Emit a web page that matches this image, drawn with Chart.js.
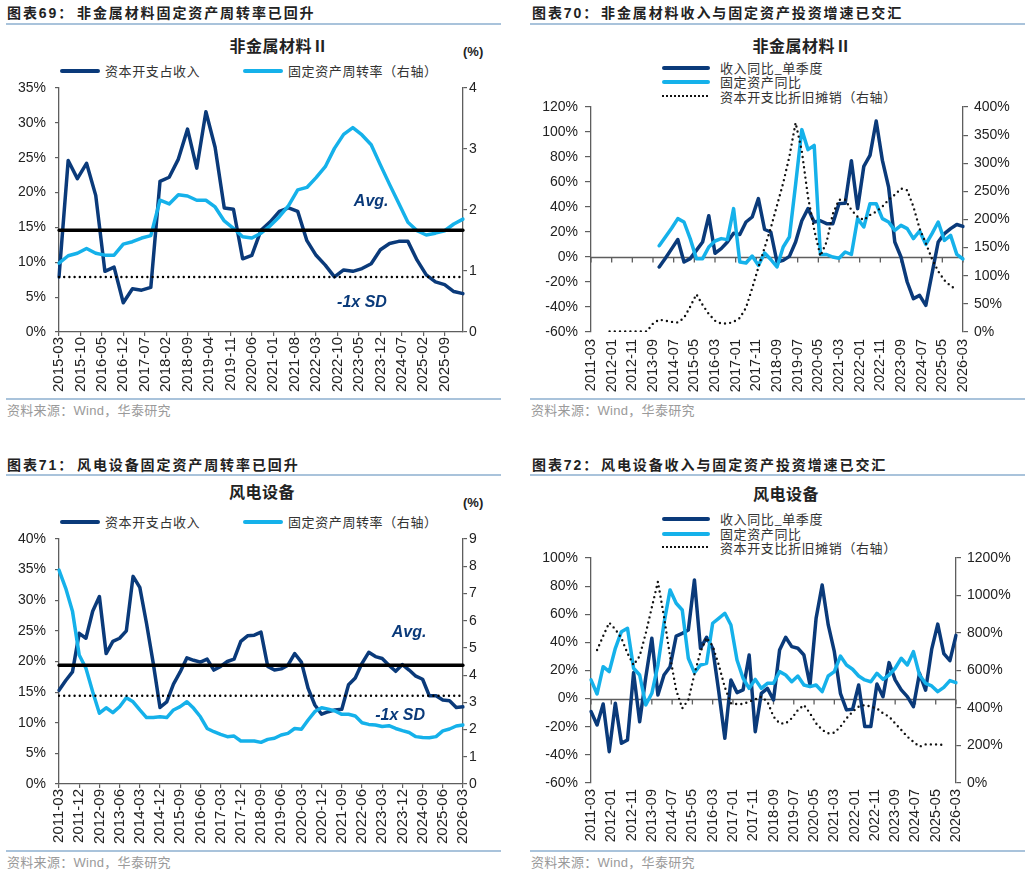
<!DOCTYPE html>
<html>
<head>
<meta charset="utf-8">
<script src="https://cdn.jsdelivr.net/npm/chart.js@4.4.1/dist/chart.umd.min.js"></script>
<style>
body { margin: 0; background: #fff; }
#page { position: relative; width: 1030px; height: 875px; overflow: hidden; font-family: "Liberation Sans", "Noto Sans CJK SC", sans-serif; color: #222; }
.abs { position: absolute; white-space: nowrap; }
.hd { font-size: 14px; font-weight: bold; letter-spacing: 1.9px; line-height: 18px; }
.rule { position: absolute; height: 1.5px; background: #a9c3db; }
.ttl { font-size: 16px; font-weight: bold; letter-spacing: 0.5px; line-height: 20px; transform: translateX(-50%); }
.unit { font-size: 13px; font-weight: bold; line-height: 16px; }
.src { font-size: 13px; color: #9a9a9a; line-height: 16px; letter-spacing: 0.3px; }
.lg { font-size: 13px; color: #333; line-height: 16px; letter-spacing: 0.6px; font-family: "Noto Sans CJK SC", sans-serif; }
.sw { position: absolute; height: 4px; border-radius: 2px; }
.swd { position: absolute; height: 0; border-top: 2.5px dotted #111; }
canvas { position: absolute; }
</style>
</head>
<body>
<div id="page">
  <!-- panel headers -->
  <div class="abs hd" style="left:7px;top:4px">图表69：</div>
  <div class="abs hd" style="left:77px;top:4px">非金属材料固定资产周转率已回升</div>
  <div class="rule" style="left:6px;top:23px;width:495px"></div>
  <div class="abs hd" style="left:532px;top:4px">图表70：</div>
  <div class="abs hd" style="left:601px;top:4px">非金属材料收入与固定资产投资增速已交汇</div>
  <div class="rule" style="left:530px;top:23px;width:495px"></div>
  <div class="abs hd" style="left:7px;top:456px">图表71：</div>
  <div class="abs hd" style="left:77px;top:456px">风电设备固定资产周转率已回升</div>
  <div class="rule" style="left:6px;top:474px;width:495px"></div>
  <div class="abs hd" style="left:532px;top:456px">图表72：</div>
  <div class="abs hd" style="left:601px;top:456px">风电设备收入与固定资产投资增速已交汇</div>
  <div class="rule" style="left:530px;top:474px;width:495px"></div>

  <!-- chart titles -->
  <div class="abs ttl" style="left:279px;top:37px">非金属材料Ⅱ</div>
  <div class="abs ttl" style="left:802px;top:37px">非金属材料Ⅱ</div>
  <div class="abs ttl" style="left:262px;top:483px">风电设备</div>
  <div class="abs ttl" style="left:786px;top:485px">风电设备</div>
  <div class="abs unit" style="left:463px;top:44px">(%)</div>
  <div class="abs unit" style="left:463px;top:495px">(%)</div>

  <!-- legends -->
  <div class="sw" style="left:60px;top:69px;width:40px;background:#0a3a7a"></div>
  <div class="abs lg" style="left:105px;top:63px">资本开支占收入</div>
  <div class="sw" style="left:243px;top:69px;width:40px;background:#15b1ea"></div>
  <div class="abs lg" style="left:288px;top:63px">固定资产周转率（右轴）</div>

  <div class="sw" style="left:662px;top:66px;width:48px;background:#0a3a7a"></div>
  <div class="abs lg" style="left:720px;top:60px">收入同比_单季度</div>
  <div class="sw" style="left:662px;top:80px;width:48px;background:#15b1ea"></div>
  <div class="abs lg" style="left:720px;top:74px">固定资产同比</div>
  <div class="swd" style="left:662px;top:95px;width:46px"></div>
  <div class="abs lg" style="left:720px;top:89px">资本开支比折旧摊销（右轴）</div>

  <div class="sw" style="left:60px;top:520px;width:40px;background:#0a3a7a"></div>
  <div class="abs lg" style="left:105px;top:514px">资本开支占收入</div>
  <div class="sw" style="left:243px;top:520px;width:40px;background:#15b1ea"></div>
  <div class="abs lg" style="left:288px;top:514px">固定资产周转率（右轴）</div>

  <div class="sw" style="left:662px;top:517px;width:48px;background:#0a3a7a"></div>
  <div class="abs lg" style="left:720px;top:511px">收入同比_单季度</div>
  <div class="sw" style="left:662px;top:532px;width:48px;background:#15b1ea"></div>
  <div class="abs lg" style="left:720px;top:526px">固定资产同比</div>
  <div class="swd" style="left:662px;top:546px;width:46px"></div>
  <div class="abs lg" style="left:720px;top:540px">资本开支比折旧摊销（右轴）</div>

  <!-- charts (top padding 20 inside each canvas) -->
  <canvas id="c1" width="515" height="330" style="left:0;top:68px;width:515px;height:330px"></canvas>
  <canvas id="c2" width="515" height="311" style="left:515px;top:87px;width:515px;height:311px"></canvas>
  <canvas id="c3" width="515" height="330" style="left:0;top:519px;width:515px;height:330px"></canvas>
  <canvas id="c4" width="515" height="311" style="left:515px;top:538px;width:515px;height:311px"></canvas>

  <!-- sources -->
  <div class="rule" style="left:6px;top:398px;width:495px"></div>
  <div class="abs src" style="left:7px;top:403px">资料来源：Wind，华泰研究</div>
  <div class="rule" style="left:530px;top:398px;width:495px"></div>
  <div class="abs src" style="left:531px;top:403px">资料来源：Wind，华泰研究</div>
  <div class="rule" style="left:6px;top:850px;width:495px"></div>
  <div class="abs src" style="left:7px;top:855px">资料来源：Wind，华泰研究</div>
  <div class="rule" style="left:530px;top:850px;width:495px"></div>
  <div class="abs src" style="left:531px;top:855px">资料来源：Wind，华泰研究</div>
</div>

<script>
const NAVY = "#0a3a7a";
const CYAN = "#15b1ea";
const AXIS = "#5e5e5e";
const FONT = '"Liberation Sans", Arial, sans-serif';

// quarterly data, one value per quarter end
// 非金属材料 2015-03 .. 2026-03
const nmCapexRatio = [7.9, 24.6, 22.0, 24.2, 19.6, 8.7, 9.3, 4.2, 6.2, 6.0, 6.4, 21.6, 22.2, 24.8, 29.1, 23.5, 31.6, 26.5, 17.8, 17.6, 10.5, 11.0, 14.6, 15.8, 17.3, 17.8, 17.3, 13.1, 11.0, 9.6, 7.9, 8.9, 8.7, 9.1, 9.8, 11.8, 12.7, 13.0, 13.0, 10.3, 8.2, 7.2, 6.8, 5.8, 5.5];
const nmTurnover = [1.13, 1.25, 1.29, 1.37, 1.29, 1.26, 1.26, 1.44, 1.48, 1.54, 1.58, 2.16, 2.10, 2.25, 2.23, 2.16, 2.16, 2.05, 1.82, 1.70, 1.56, 1.54, 1.62, 1.74, 1.89, 2.07, 2.33, 2.37, 2.53, 2.71, 3.01, 3.24, 3.35, 3.23, 3.07, 2.74, 2.42, 2.11, 1.80, 1.66, 1.59, 1.62, 1.66, 1.77, 1.85];
const nmAvg = 14.6;
const nmSd = 7.9;

// 非金属材料 2011-03 .. 2026-03
const nmRevYoY = [null, null, null, null, null, null, null, null, null, null,
  null, -8, -1, 6.5, 14, -4, -1.3, 5.3, 12, 33,
  3, 6.7, 12, 19, 18, 28, 32, 46.7, 22, 20,
  -4, -2.7, 0.5, 12, 29, 38.7, 28, 29, 26.7, 26.7,
  42.7, 43, 77, 38.7, 72.5, 81.3, 108.8, 77.3, 56, 12,
  0, -20, -33.3, -30.7, -38.7, -13.3, 12, 18.7, 22.7, 26,
  24.5];
const nmFaYoY = [null, null, null, null, null, null, null, null, null, null,
  null, 9, 16, 23, 30.7, 28, 14.7, -1.3, -1.3, 8,
  12.8, 14.7, 13.9, 38.7, -4, -4.8, 0.8, -6.7, 3.2, -2,
  -8, 8, 16, 58, 101.9, 85.9, 89.3, 2, 2, 0,
  -1, 4, 2, 30.7, 24, 42.7, 42.7, 30.7, 28, 21.3,
  25.3, 22.7, 14.7, 20.8, 10.1, 18.7, 28, 13.3, 17.3, 2.1,
  -1.6];
const nmCapexDep = [null, null, null, 1, 1, 1, 1, 1, 1, 1,
  15, 22, 20, 18, 17, 25, 45, 67, 48, 32,
  20, 15, 15, 18, 25, 43, 78, 115, 150, 185,
  225, 265, 312, 372, 322, 240, 182, 135, 160, 210,
  235, 235, 217, 205, 199, 208, 214, 223, 235, 244,
  255, 252, 223, 184, 158, 130, 108, 92, 82, 75,
  null];

// 风电设备 2011-03 .. 2026-03
const wpCapexRatio = [15.3, 16.9, 18.3, 24.6, 23.8, 28.2, 30.6, 21.3, 23.3, 23.8,
  25.0, 33.9, 32.1, 26.2, 19.7, 12.5, 13.4, 16.3, 18.3, 20.6,
  20.2, 19.9, 20.4, 18.6, 19.2, 20.0, 20.4, 23.3, 24.2, 24.3,
  24.8, 19.2, 18.6, 18.8, 19.4, 21.3, 19.9, 15.6, 12.9, 11.4,
  11.8, 12.1, 12.2, 16.2, 17.3, 19.7, 21.5, 20.8, 20.5, 19.4,
  18.4, 19.5, 18.6, 17.6, 17.1, 14.4, 14.4, 13.7, 13.6, 12.5,
  12.6];
const wpTurnover = [7.86, 7.19, 6.35, 4.74, 4.25, 3.39, 2.60, 2.80, 2.62, 2.84,
  3.17, 3.02, 2.72, 2.44, 2.44, 2.47, 2.44, 2.72, 2.84, 3.02,
  2.78, 2.47, 2.04, 1.92, 1.82, 1.74, 1.76, 1.58, 1.58, 1.58,
  1.53, 1.64, 1.68, 1.80, 1.86, 2.04, 2.01, 2.35, 2.66, 2.80,
  2.75, 2.68, 2.56, 2.56, 2.50, 2.25, 2.19, 2.17, 2.11, 2.14,
  2.04, 1.96, 1.89, 1.74, 1.71, 1.70, 1.74, 1.95, 2.02, 2.13,
  2.17];
const wpAvg = 19.4;
const wpSd = 14.4;

const wpRevYoY = [-9.2, -18.7, -3.8, -37.7, -3.3, -31.8, -29.4, 18.5, -16.4, 15,
  43, 2.6, 16.8, 22.7, 44.5, 46.4, 48.8, 84.4, 35.8, 43.6,
  35.8, 5, -28.2, 13.3, 4.3, 6.2, 31, -23.5, 3.8, 7.3,
  -1, 34.6, 43.6, 37, 35.8, 31, 9.7, 57.1, 80.8, 52.4,
  33.4, 3.8, -8, -7.6, 9.7, -19.9, -19.9, 10.4, 1.4, 25.6,
  13.3, 6.2, 1.4, -5.7, 18, 6, 35, 53, 32, 27,
  45];
const wpFaYoY = [13.3, 3.3, 22.7, 19.2, 35.8, 47.6, 50, 21.6, 16.8, -4.5,
  3.8, 23.9, 53.6, 77.3, 67.8, 63, 28.7, 18.5, 23.9, 25.1,
  53.6, 57.1, 60.7, 52.4, 27.5, 14.5, 7.3, 13.7, 7.3, 10.9,
  10.9, 19.2, 16.8, 12, 16.1, 9.7, 8.5, 9.7, 5, 16.1,
  19.2, 30.3, 23.9, 20.9, 16.1, 13.3, 12, 18, 13.7, 16.8,
  21.6, 28.7, 23.9, 33.4, 16.8, 10.9, 9, 5, 8, 12.8,
  11.4];
const wpCapexDep = [null, 709, 784, 855, 820, 772, 692, 629, 677, 798,
  937, 1074, 887, 674, 496, 398, 443, 580, 700, 775,
  730, 630, 510, 425, 421, 421, 434, 446, 460, 434,
  354, 318, 318, 345, 389, 416, 372, 318, 283, 265,
  268, 300, 345, 380, 407, 416, 407, 398, 372, 354,
  318, 283, 247, 220, 194, 206, 206, 206, 203, null,
  null];

// monthly category axis
function monthList(y0, m0, n) {
  const out = [];
  for (let k = 0; k < n; k++) {
    const t = y0 * 12 + (m0 - 1) + k;
    out.push(Math.floor(t / 12) + "-" + String(t % 12 + 1).padStart(2, "0"));
  }
  return out;
}
const months15 = monthList(2015, 3, 133);
const months11 = monthList(2011, 3, 181);

function pts(months, vals) {
  const out = [];
  vals.forEach((v, i) => { if (v != null) out.push({ x: months[i * 3], y: v }); });
  return out;
}
function flat(months, v) {
  return [{ x: months[0], y: v }, { x: months[months.length - 1], y: v }];
}

// zero line with ticks + text notes
const extras = {
  id: "extras",
  beforeDatasetsDraw(chart, args, opts) {
    if (!opts.zeroTicks) return;
    const { ctx, chartArea } = chart;
    const x = chart.scales.x, y = chart.scales.y;
    const y0 = Math.round(y.getPixelForValue(0)) + 0.5;
    ctx.save();
    ctx.strokeStyle = AXIS;
    ctx.lineWidth = 1.3;
    ctx.beginPath();
    ctx.moveTo(chartArea.left, y0);
    ctx.lineTo(chartArea.right, y0);
    const n = x.getLabels().length;
    for (let i = 0; i < n; i += opts.zeroTicks) {
      const px = x.getPixelForValue(i);
      ctx.moveTo(px, y0);
      ctx.lineTo(px, y0 + 5);
    }
    ctx.stroke();
    ctx.restore();
  },
  afterDatasetsDraw(chart, args, opts) {
    if (!opts.notes) return;
    const { ctx } = chart;
    const x = chart.scales.x, y = chart.scales.y;
    ctx.save();
    ctx.font = "italic bold 16px " + FONT;
    ctx.fillStyle = NAVY;
    ctx.textAlign = "center";
    ctx.textBaseline = "middle";
    opts.notes.forEach(n => {
      ctx.fillText(n.text, x.getPixelForValue(x.getLabels().indexOf(n.at)), y.getPixelForValue(n.y));
    });
    ctx.restore();
  }
};
Chart.register(extras);

function line(label, data, color, axis, order, dotted) {
  return {
    label: label,
    data: data,
    yAxisID: axis,
    borderColor: color,
    borderWidth: dotted ? 2.4 : 3.5,
    borderDash: dotted ? [0, 5.2] : [],
    borderCapStyle: "round",
    borderJoinStyle: "round",
    pointRadius: 0,
    tension: 0,
    order: order
  };
}

function yAxis(pos, min, max, step, fmt, width, tickLen, pad) {
  return {
    position: pos, min: min, max: max,
    ticks: { stepSize: step, callback: fmt, color: "#222", padding: pad, font: { family: FONT, size: 14 } },
    grid: { drawOnChartArea: false, tickLength: tickLen, color: AXIS, lineWidth: 1.2 },
    border: { color: AXIS, width: 1.3 },
    afterFit(s) { s.width = width; }
  };
}

function xAxis(labels, every, height, withLine, pad, size) {
  return {
    type: "category",
    labels: labels,
    ticks: {
      autoSkip: false, minRotation: 90, maxRotation: 90, padding: pad, color: "#222",
      font: { family: FONT, size: size },
      callback(v, i) { return i % every === 0 ? labels[i] : null; }
    },
    grid: withLine ? { drawOnChartArea: false, tickLength: 4, color: AXIS, lineWidth: 1.2 } : { display: false, drawTicks: false },
    border: withLine ? { color: AXIS, width: 1.3 } : { display: false },
    afterFit(s) { s.height = height; }
  };
}

const pct = v => v + "%";
const num = v => v;
const base = {
  responsive: false,
  animation: false,
  layout: { padding: { top: 20, left: 0, right: 0, bottom: 0 } }
};

// 图表69
new Chart(document.getElementById("c1"), {
  type: "line",
  data: {
    datasets: [
      line("Avg.", flat(months15, nmAvg), "#000", "y", 0, false),
      line("-1x SD", flat(months15, nmSd), "#000", "y", 0, true),
      line("固定资产周转率（右轴）", pts(months15, nmTurnover), CYAN, "y1", 1, false),
      line("资本开支占收入", pts(months15, nmCapexRatio), NAVY, "y", 2, false)
    ]
  },
  options: Object.assign({}, base, {
    plugins: {
      legend: { display: false }, tooltip: { enabled: false },
      extras: { notes: [{ text: "Avg.", at: "2023-09", y: 18.65 }, { text: "-1x SD", at: "2023-06", y: 4.16 }] }
    },
    scales: {
      x: xAxis(months15, 7, 66, true, 1, 15),
      y: yAxis("left", 0, 35, 5, pct, 59, 4, 9),
      y1: yAxis("right", 0, 4, 1, num, 52, 4, 2)
    }
  })
});

// 图表70
new Chart(document.getElementById("c2"), {
  type: "line",
  data: {
    datasets: [
      line("资本开支比折旧摊销（右轴）", pts(months11, nmCapexDep), "#111", "y1", 0, true),
      line("固定资产同比", pts(months11, nmFaYoY), CYAN, "y", 1, false),
      line("收入同比_单季度", pts(months11, nmRevYoY), NAVY, "y", 2, false)
    ]
  },
  options: Object.assign({}, base, {
    plugins: { legend: { display: false }, tooltip: { enabled: false }, extras: { zeroTicks: 10 } },
    scales: {
      x: xAxis(months11, 10, 66, false, 7, 14.5),
      y: yAxis("left", -60, 120, 20, pct, 76, 6, 7),
      y1: yAxis("right", 0, 400, 50, pct, 67, 5, 6)
    }
  })
});

// 图表71
new Chart(document.getElementById("c3"), {
  type: "line",
  data: {
    datasets: [
      line("Avg.", flat(months11, wpAvg), "#000", "y", 0, false),
      line("-1x SD", flat(months11, wpSd), "#000", "y", 0, true),
      line("固定资产周转率（右轴）", pts(months11, wpTurnover), CYAN, "y1", 1, false),
      line("资本开支占收入", pts(months11, wpCapexRatio), NAVY, "y", 2, false)
    ]
  },
  options: Object.assign({}, base, {
    plugins: {
      legend: { display: false }, tooltip: { enabled: false },
      extras: { notes: [{ text: "Avg.", at: "2024-03", y: 24.8 }, { text: "-1x SD", at: "2023-11", y: 11.1 }] }
    },
    scales: {
      x: xAxis(months11, 9, 65, true, 1, 15),
      y: yAxis("left", 0, 40, 5, pct, 59, 4, 9),
      y1: yAxis("right", 0, 9, 1, num, 52, 4, 2)
    }
  })
});

// 图表72
new Chart(document.getElementById("c4"), {
  type: "line",
  data: {
    datasets: [
      line("资本开支比折旧摊销（右轴）", pts(months11, wpCapexDep), "#111", "y1", 0, true),
      line("固定资产同比", pts(months11, wpFaYoY), CYAN, "y", 1, false),
      line("收入同比_单季度", pts(months11, wpRevYoY), NAVY, "y", 2, false)
    ]
  },
  options: Object.assign({}, base, {
    plugins: { legend: { display: false }, tooltip: { enabled: false }, extras: { zeroTicks: 10 } },
    scales: {
      x: xAxis(months11, 10, 66, false, 6, 14.5),
      y: yAxis("left", -60, 100, 20, pct, 76, 6, 7),
      y1: yAxis("right", 0, 1200, 200, pct, 74, 5, 6)
    }
  })
});
</script>
</body>
</html>
